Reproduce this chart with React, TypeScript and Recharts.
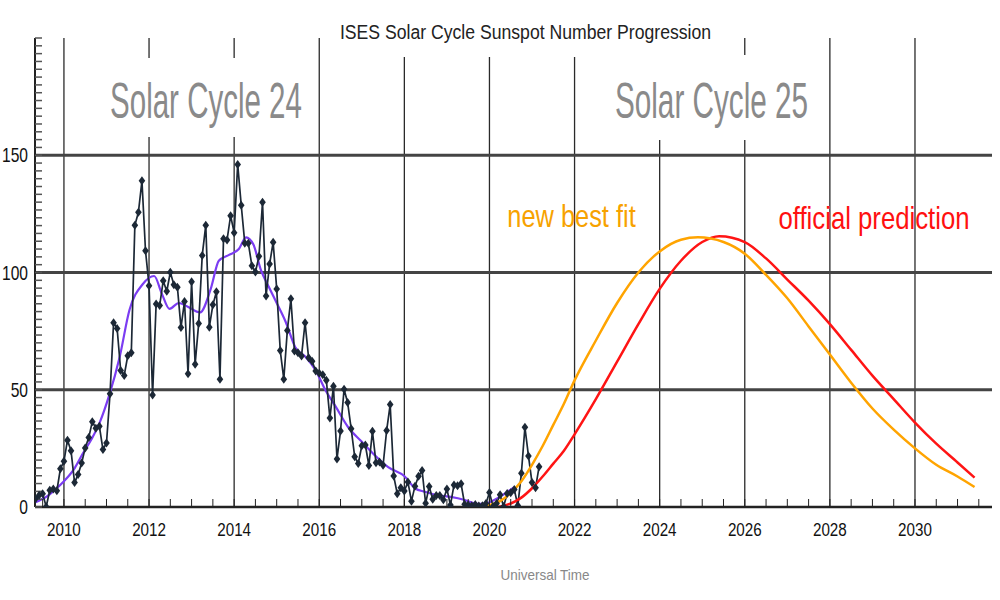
import { LineChart, Line, XAxis, YAxis, ReferenceLine } from 'recharts'

// monthly mean sunspot number, one value per month starting May 2009
const MONTHLY_FIRST = 2009 + 4 / 12
const monthlySunspots = [
  3.5, 5, 5.6, 0.1, 7.1, 7.7, 6.9, 16.3, // 2009 (May-Dec)
  19.5, 28.5, 24.0, 10.4, 13.9, 18.8, 25.2, 29.6, 36.4, 33.6, 34.4, 24.5, // 2010
  27.3, 48.3, 78.6, 76.1, 58.2, 56.1, 64.5, 65.8, 120.1, 125.7, 139.1, 109.3, // 2011
  94.4, 47.8, 86.6, 85.9, 96.5, 92.0, 100.1, 94.8, 93.7, 76.5, 87.6, 56.8, // 2012
  96.1, 60.9, 78.3, 107.3, 120.2, 76.7, 86.2, 91.8, 54.5, 114.4, 113.9, 124.2, // 2013
  117.0, 146.1, 128.7, 112.5, 112.5, 102.9, 100.2, 106.9, 130.0, 90.0, 103.6, 112.9, // 2014
  93.0, 66.7, 54.5, 75.3, 88.8, 66.5, 65.8, 64.4, 78.6, 63.6, 62.2, 58.0, // 2015
  57.0, 56.4, 54.1, 37.9, 51.5, 20.5, 32.4, 50.2, 44.6, 33.4, 21.4, 18.5, // 2016
  26.1, 26.4, 17.7, 32.3, 18.9, 19.2, 17.8, 32.6, 43.7, 13.2, 5.7, 8.2, // 2017
  6.8, 10.7, 2.5, 8.9, 13.1, 15.6, 1.6, 8.7, 3.3, 4.9, 4.9, 3.1, // 2018
  7.7, 0.8, 9.4, 9.1, 9.9, 1.2, 0.9, 0.5, 1.1, 0.4, 0.5, 1.5, // 2019
  6.2, 0.2, 1.5, 5.2, 0.2, 5.8, 6.1, 7.5, 0.6, 14.4, 34.0, 21.8, // 2020
  10.4, 8.2, 17.2 // 2021 (Jan-Mar)
]

// smoothed sunspot number (purple)
const smoothedYears = [
  2009.33, 2009.6, 2009.8, 2010.0, 2010.25, 2010.45, 2010.65, 2010.84, 2011.07, 2011.31,
  2011.54, 2011.85, 2012.12, 2012.3, 2012.48, 2012.7, 2012.9, 2013.2, 2013.45, 2013.64,
  2013.88, 2014.11, 2014.28, 2014.45, 2014.63, 2014.81, 2015.0, 2015.21, 2015.44, 2015.68,
  2015.91, 2016.14, 2016.38, 2016.68, 2016.99, 2017.31, 2017.62, 2018.01, 2018.25, 2018.48,
  2018.79, 2019.09, 2019.42, 2019.72, 2019.95, 2020.19, 2020.42, 2020.58
]
const smoothedValues = [
  2, 4.5, 7.5, 11, 16.5, 23, 29, 36, 48, 64,
  84, 95, 98.5, 91, 84.5, 87, 85.5, 83, 93, 105,
  107.5, 110, 115, 112, 101, 94, 87, 79, 68, 64,
  58.5, 50, 43, 34, 28, 22, 17, 13, 8, 6.5,
  5, 4.3, 3, 1.3, 1.7, 3.8, 6.4, 8.5
]

// cycle 25 curves
const bestFitYears = [
  2019.8, 2020.0, 2020.25, 2020.5, 2020.75, 2021.0, 2021.25, 2021.5, 2021.75, 2022.0,
  2022.5, 2023.0, 2023.5, 2024.0, 2024.5, 2024.9, 2025.5, 2026.0, 2026.5, 2027.0,
  2027.5, 2028.0, 2028.5, 2029.0, 2029.5, 2030.0, 2030.5, 2031.0, 2031.4
]
const bestFitValues = [
  0, 0.8, 2.5, 6, 11, 18, 26, 35, 44, 54,
  71, 87, 100, 109, 114, 115, 113, 108, 99, 89,
  77, 65, 53, 42, 33, 25, 18, 13, 8.5
]
const officialYears = [
  2020.2, 2020.5, 2020.75, 2021.0, 2021.25, 2021.5, 2021.75, 2022.0, 2022.5, 2023.0,
  2023.5, 2024.0, 2024.5, 2025.0, 2025.4, 2026.0, 2026.5, 2027.0, 2027.5, 2028.0,
  2028.5, 2029.0, 2029.5, 2030.0, 2030.5, 2031.0, 2031.4
]
const officialValues = [
  0, 1.5, 4, 8, 13, 18.5, 24, 31, 46, 62,
  78, 93, 105, 113, 115.5, 113, 106, 97, 88, 78,
  67, 56, 46, 36, 27, 19, 12.5
]

const gridYears = [2010, 2012, 2014, 2016, 2018, 2020, 2022, 2024, 2026, 2028, 2030]
const gridLevels = [50, 100, 150]
const yLabels = [0, 50, 100, 150]

const X_DOMAIN: [number, number] = [2009.32, 2031.81]
const Y_DOMAIN: [number, number] = [0, 200]
const xTicks = Array.from({ length: 45 }, (_, i) => 2009.5 + i * 0.5)
const yTicks = Array.from({ length: 61 }, (_, i) => (i * 10) / 3)

const monthlyData = monthlySunspots.map((v, i) => ({ t: MONTHLY_FIRST + i / 12, v }))
const smoothedData = smoothedYears.map((t, i) => ({ t, v: smoothedValues[i] }))
const bestFitData = bestFitYears.map((t, i) => ({ t, v: bestFitValues[i] }))
const officialData = officialYears.map((t, i) => ({ t, v: officialValues[i] }))

const INK = '#1c2836'
const AXIS = '#222'
const FONT = '"Liberation Sans", Arial, sans-serif'

// text squeezed horizontally, like the stretched original image
function Squeezed({ x, y, sx, size, fill, anchor = 'middle', children }: any) {
  return (
    <text transform={`translate(${x} ${y}) scale(${sx} 1)`} textAnchor={anchor}
      fontSize={size} fontFamily={FONT} fill={fill}>
      {children}
    </text>
  )
}

function Diamond(props: any) {
  const { cx, cy, index } = props
  if (cx == null || cy == null) return <g key={`d-${index}`} />
  return (
    <path
      key={`d-${index}`}
      d={`M${cx},${cy - 4.5}L${cx + 3.3},${cy}L${cx},${cy + 4.5}L${cx - 3.3},${cy}Z`}
      fill={INK}
    />
  )
}

function XTick(props: any) {
  const { x, y, payload } = props
  const v = payload.value
  if (!gridYears.some(g => Math.abs(g - v) < 0.01)) return <g />
  return <Squeezed x={x} y={y + 7} sx={0.8} size={19} fill="#111">{Math.round(v)}</Squeezed>
}

function YTick(props: any) {
  const { x, y, payload } = props
  const v = payload.value
  const hit = yLabels.find(l => Math.abs(l - v) < 0.01)
  if (hit === undefined) return <g />
  return <Squeezed x={x} y={y + 7} sx={0.78} size={20} fill="#111" anchor="end">{hit}</Squeezed>
}

export default function App() {
  return (
    <div style={{ position: 'absolute', left: 0, top: 0, width: 1000, height: 600, background: '#fff' }}>
      <LineChart width={1000} height={600} margin={{ top: 38, right: 8, bottom: 0, left: 0 }}>
        <XAxis
          dataKey="t"
          type="number"
          domain={X_DOMAIN}
          allowDataOverflow
          ticks={xTicks}
          interval={0}
          height={93}
          tickSize={-8}
          tickMargin={30}
          tickLine={{ stroke: AXIS, strokeWidth: 1 }}
          axisLine={{ stroke: AXIS, strokeWidth: 2.5 }}
          tick={XTick}
        />
        <XAxis xAxisId="top" orientation="top" type="number" domain={X_DOMAIN} allowDataOverflow
          height={0} tick={false} tickLine={false} axisLine={{ stroke: AXIS, strokeWidth: 2 }} />
        <YAxis
          type="number"
          domain={Y_DOMAIN}
          allowDataOverflow
          ticks={yTicks}
          interval={0}
          width={35}
          tickSize={-7}
          tickMargin={14}
          tickLine={{ stroke: '#555', strokeWidth: 1.5 }}
          axisLine={{ stroke: AXIS, strokeWidth: 2 }}
          tick={YTick}
        />
        <YAxis yAxisId="right" orientation="right" type="number" domain={Y_DOMAIN} allowDataOverflow
          ticks={yTicks} interval={0} width={0} tickSize={-7}
          tickLine={{ stroke: '#555', strokeWidth: 1.5 }}
          axisLine={{ stroke: AXIS, strokeWidth: 2 }} tick={() => <g />} />

        {gridYears.map(g => (
          <ReferenceLine key={`gx-${g}`} x={g} stroke="#2a2a2a" strokeWidth={1.3} />
        ))}
        {gridLevels.map(g => (
          <ReferenceLine key={`gy-${g}`} y={g} stroke="#444" strokeWidth={2.8} />
        ))}

        <Line data={smoothedData} dataKey="v" type="monotone" stroke="#7b3cf2" strokeWidth={2.2}
          dot={false} isAnimationActive={false} />
        <Line data={monthlyData} dataKey="v" type="linear" stroke={INK} strokeWidth={1.7}
          dot={Diamond} isAnimationActive={false} />
        <Line data={officialData} dataKey="v" type="monotone" stroke="#ff1414" strokeWidth={2.5}
          dot={false} isAnimationActive={false} />
        <Line data={bestFitData} dataKey="v" type="monotone" stroke="#ffa400" strokeWidth={2.5}
          dot={false} isAnimationActive={false} />
      </LineChart>

      <svg width={1000} height={600} style={{ position: 'absolute', left: 0, top: 0, pointerEvents: 'none' }}>
        <rect x={336} y={20} width={381} height={37} fill="#fff" />
        <Squeezed x={525.5} y={39} sx={0.84} size={21} fill="#222">
          ISES Solar Cycle Sunspot Number Progression
        </Squeezed>

        <rect x={100} y={58} width={212} height={79} fill="#fff" />
        <Squeezed x={206} y={118} sx={0.59} size={50} fill="#8a8a8a">Solar Cycle 24</Squeezed>

        <rect x={592} y={55} width={228} height={85} fill="#fff" />
        <Squeezed x={711.5} y={118} sx={0.594} size={50} fill="#8a8a8a">Solar Cycle 25</Squeezed>

        <Squeezed x={571.5} y={227} sx={0.82} size={31} fill="#f7a200">new best fit</Squeezed>
        <Squeezed x={874} y={229} sx={0.83} size={31} fill="#ff1010">official prediction</Squeezed>

        <Squeezed x={545} y={580} sx={0.9} size={15} fill="#888">Universal Time</Squeezed>
      </svg>
    </div>
  )
}
